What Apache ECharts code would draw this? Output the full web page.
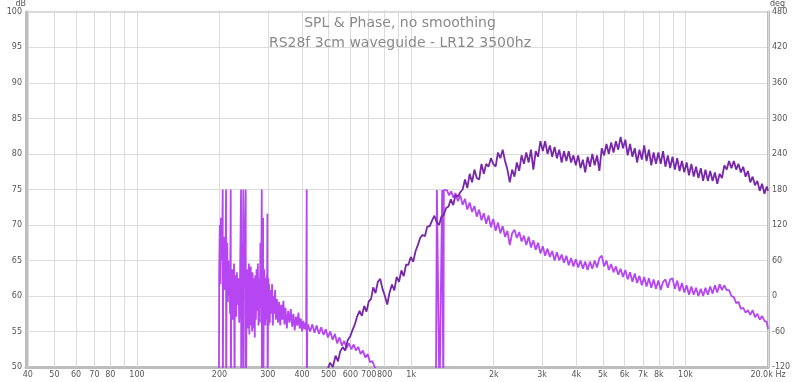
<!DOCTYPE html>
<html>
<head>
<meta charset="utf-8" />
<title>SPL & Phase</title>
<script src="https://cdn.jsdelivr.net/npm/echarts@6/dist/echarts.min.js"></script>
<style>
  html, body { margin: 0; padding: 0; background: #fff; }
  #main { width: 800px; height: 382px; }
</style>
</head>
<body>
<div id="main"></div>
<script>
// frequency gridlines and labelled frequencies (Hz)
var gridFreqs = [40, 50, 60, 70, 80, 90, 100, 200, 300, 400, 500, 600, 700, 800, 900,
    1000, 2000, 3000, 4000, 5000, 6000, 7000, 8000, 9000, 10000, 20000];
var labelFreqs = [40, 50, 60, 70, 80, 100, 200, 300, 400, 500, 600, 700, 800,
    1000, 2000, 3000, 4000, 5000, 6000, 7000, 8000, 10000, 20000];

// SPL, dB  [Hz, dB]
var splData = [
    [480, 47.5], [495, 49.6], [506, 50.6], [518, 50.0], [530, 51.6], [541, 50.8], [551, 52.2],
    [563, 52.8], [575, 52.3], [587, 53.8], [599, 54.3], [611, 55.2], [623, 56.0], [635, 57.1],
    [648, 57.9], [661, 57.2], [674, 58.6], [687, 57.8], [700, 59.2], [714, 59.6], [727, 61.2],
    [741, 60.4], [756, 62.0], [771, 62.4], [786, 61.0], [802, 60.0], [818, 58.8], [834, 60.5],
    [851, 61.6], [868, 60.8], [885, 62.7], [903, 62.0], [921, 63.6], [939, 62.8], [958, 64.4],
    [977, 64.4], [997, 65.5], [1017, 64.8], [1037, 66.3], [1058, 67.2], [1079, 68.2], [1100, 68.6],
    [1122, 68.4], [1145, 69.8], [1168, 69.8], [1191, 70.6], [1215, 71.3], [1239, 70.4], [1264, 70.0],
    [1289, 71.2], [1315, 71.4], [1341, 72.4], [1368, 72.6], [1395, 73.6], [1423, 72.8], [1451, 74.2],
    [1480, 74.0], [1510, 74.6], [1540, 75.0], [1571, 76.4], [1602, 75.2], [1634, 77.2], [1667, 76.0],
    [1700, 77.8], [1734, 76.6], [1769, 76.4], [1804, 78.6], [1840, 77.2], [1877, 78.6], [1914, 78.2],
    [1953, 79.4], [1992, 78.6], [2032, 78.2], [2072, 80.2], [2114, 79.4], [2156, 80.6], [2199, 79.0],
    [2243, 77.8], [2288, 76.0], [2334, 77.8], [2380, 76.8], [2428, 78.8], [2477, 77.6], [2526, 79.8],
    [2577, 78.6], [2628, 80.2], [2681, 78.8], [2734, 80.6], [2789, 77.8], [2845, 80.4], [2901, 79.6],
    [2959, 81.8], [3019, 80.4], [3079, 81.8], [3141, 80.0], [3203, 81.2], [3267, 79.6], [3333, 81.0],
    [3399, 79.4], [3467, 80.6], [3537, 78.8], [3607, 80.4], [3680, 79.0], [3753, 80.4], [3828, 78.8],
    [3905, 79.8], [3983, 78.4], [4063, 79.8], [4144, 78.0], [4227, 79.2], [4311, 77.4], [4398, 79.6],
    [4486, 78.2], [4575, 80.0], [4667, 78.4], [4760, 79.8], [4855, 77.6], [4952, 80.8], [5051, 79.8],
    [5152, 81.4], [5255, 80.0], [5360, 81.6], [5468, 80.2], [5577, 81.8], [5689, 80.6], [5802, 82.4],
    [5918, 80.8], [6037, 82.0], [6157, 79.8], [6281, 81.4], [6406, 79.6], [6534, 80.8], [6665, 78.8],
    [6798, 80.6], [6934, 79.2], [7073, 81.2], [7214, 79.0], [7359, 80.6], [7506, 78.4], [7656, 80.2],
    [7809, 78.6], [7965, 80.2], [8125, 78.6], [8287, 80.4], [8453, 78.2], [8622, 79.8], [8794, 78.0],
    [8970, 79.6], [9150, 77.8], [9333, 79.4], [9519, 77.6], [9710, 79.0], [9904, 77.4], [10100, 78.8],
    [10300, 77.0], [10510, 78.6], [10720, 76.8], [10930, 78.2], [11150, 76.6], [11380, 78.0], [11600, 76.2],
    [11830, 77.8], [12070, 76.2], [12310, 77.6], [12560, 76.2], [12810, 77.4], [13060, 75.8], [13330, 77.2],
    [13590, 76.6], [13860, 78.4], [14140, 77.8], [14420, 79.0], [14710, 78.0], [15010, 79.0], [15310, 77.8],
    [15610, 78.6], [15920, 77.4], [16240, 78.2], [16570, 76.8], [16900, 77.6], [17240, 76.0], [17580, 76.8],
    [17930, 75.6], [18290, 76.2], [18660, 74.8], [19030, 75.8], [19410, 74.4], [19800, 75.4], [20000, 74.8]
];

// Phase, degrees  [Hz, deg]  (wraps at +/-180)
var phaseData = [
    [199, -180], [199.5, 40], [200.5, 120], [201.5, 20], [202.5, 132], [203.5, 60], [204.5, 95],
    [205.5, 180], [205.7, -180], [206.5, 70], [207.5, 30], [208.5, 100], [209.5, 10], [210.5, 80],
    [211.3, 180], [211.5, -180], [212.5, 40], [213.5, 90], [214.5, -10], [215.5, 60], [216.5, 0],
    [217.5, 50], [218.5, -30], [219.8, 180], [220, -180], [221, 30], [222, -20], [223, 45], [224, -40],
    [225, 20], [226, 55], [227, -180], [227.5, 10], [228.5, 35], [230, -35], [231.5, 40], [233, -15],
    [234.5, 30], [236, -45], [237.5, 20], [239.7, 180], [240, -180], [241.5, 25], [242.5, -30],
    [244.3, 180], [244.5, -180], [245.5, 10], [246.5, 60], [249.3, 180], [249.5, -180],
    [251, -20], [252, 45], [253, -55], [254, 30], [255, -40], [256, 55], [257, -65], [258, 35],
    [259, -35], [260, 50], [261, -50], [262, 25], [263, -60], [264, 40], [265, -30], [266, 30],
    [267, -55], [268, 20], [269, -70], [270, 35], [271.5, -40], [273, 45], [274.5, -25], [276, 55],
    [277.5, -50], [279, 30], [280.5, -45], [282, 90], [283.5, -20], [285.2, 180], [285.4, -180],
    [286.5, 40], [287.5, -30], [288.4, 132], [289, -180], [290, -20], [291, 45], [292, -35], [293, 30],
    [294, -50], [295, 20], [296, -40], [297, 35], [298, -30], [299, 139], [299.5, -180], [300.5, -20],
    [301.5, 30], [302.5, -50], [303.5, 20], [305, -45], [307, 10], [309, -30], [311, 20], [313, -50],
    [315, 0], [317, -30], [319, 10],
    [321, -40], [324, -5], [327, -45], [330, -10], [333, -50], [336, -15], [339, -40], [342, -8],
    [345, -48], [348, -20], [352, -55], [356, -25], [360, -45], [364, -22], [368, -52], [372, -30],
    [376, -58], [380, -35], [384, -50], [388, -28], [392, -55], [396, -38], [400, -60], [404, -42],
    [408, -56], [412, -45], [414, -58], [416, 180], [416.3, -180], [418, -55],
    [420, -48], [428, -60], [436, -48], [444, -62], [452, -50], [461, -64], [470, -53], [479, -66],
    [488, -56], [497, -70], [507, -60], [517, -74], [527, -64], [537, -80], [548, -70], [559, -84],
    [570, -76], [581, -88], [593, -80], [605, -90], [617, -82], [629, -92], [641, -86], [654, -98],
    [667, -92], [680, -104], [694, -98], [708, -112], [722, -110], [736, -120], [751, -126], [766, -132],
    [800, -140], [850, -150], [900, -156], [950, -162], [1000, -166], [1060, -170], [1120, -174],
    [1180, -177], [1230, -179], [1241, 179], [1255, 178], [1268, -179], [1285, -179], [1297, 179],
    [1305, 178], [1310, -179], [1315, 179], [1330, 176],
    [1350, 179], [1375, 170], [1400, 177], [1425, 166], [1450, 174], [1480, 160], [1510, 170],
    [1540, 154], [1571, 164], [1602, 146], [1634, 158], [1667, 142], [1700, 152], [1734, 134],
    [1769, 146], [1804, 128], [1840, 140], [1877, 122], [1914, 136], [1953, 116], [1992, 130],
    [2032, 110], [2072, 124], [2114, 106], [2156, 118], [2199, 100], [2243, 110], [2288, 86],
    [2334, 106], [2380, 112], [2428, 98], [2477, 108], [2526, 92], [2577, 102], [2628, 86],
    [2681, 100], [2734, 82], [2789, 94], [2845, 78], [2901, 90], [2959, 72], [3019, 84], [3079, 68],
    [3141, 80], [3203, 66], [3267, 76], [3333, 60], [3399, 74], [3467, 60], [3537, 70], [3607, 56],
    [3680, 68], [3753, 52], [3828, 64], [3905, 50], [3983, 62], [4063, 48], [4144, 60], [4227, 46],
    [4311, 58], [4398, 44], [4486, 58], [4575, 46], [4667, 60], [4760, 48], [4855, 64], [4952, 68],
    [5051, 50], [5152, 60], [5255, 44], [5360, 54], [5468, 40], [5577, 50], [5689, 36], [5802, 46],
    [5918, 32], [6037, 44], [6157, 28], [6281, 40], [6406, 24], [6534, 38], [6665, 22], [6798, 34],
    [6934, 18], [7073, 32], [7214, 16], [7359, 30], [7506, 14], [7656, 28], [7809, 12], [7965, 26],
    [8125, 10], [8287, 24], [8453, 28], [8622, 14], [8794, 28], [8970, 30], [9150, 12], [9333, 26],
    [9519, 8], [9710, 22], [9904, 6], [10100, 18], [10300, 2], [10510, 16], [10720, 2], [10930, 14],
    [11150, 0], [11380, 12], [11600, 0], [11830, 14], [12070, 2], [12310, 16], [12560, 4], [12810, 18],
    [13060, 6], [13330, 20], [13590, 10], [13860, 18], [14140, 10], [14420, 10], [14710, 0],
    [15010, -2], [15310, -12], [15610, -10], [15920, -22], [16240, -20], [16570, -28], [16900, -24],
    [17240, -32], [17580, -24], [17930, -36], [18290, -30], [18660, -40], [19030, -34], [19410, -42],
    [19800, -44], [20000, -56]
];

function fmtHz(v) {
    v = Math.round(v);
    if (v >= 20000) return '20.0k Hz';
    if (v >= 1000) return (v / 1000) + 'k';
    return '' + v;
}

var myChart = echarts.init(document.getElementById('main'));
var labelStyle = { fontFamily: 'DejaVu Sans', fontSize: 8, color: '#555' };

var option = {
    backgroundColor: '#fff',
    animation: false,
    title: {
        text: 'SPL & Phase, no smoothing\nRS28f 3cm waveguide - LR12 3500hz',
        left: 'center',
        top: 8,
        textStyle: { fontFamily: 'DejaVu Sans', fontSize: 14, fontWeight: 'normal', color: '#8a8a8a', lineHeight: 20, align: 'center' }
    },
    grid: { left: 26, right: 32, top: 10, bottom: 15, show: true, borderColor: '#c4c4c4', borderWidth: 1 },
    xAxis: {
        type: 'log',
        logBase: 10,
        min: 39.4,
        max: 20000,
        axisLine: { show: true, onZero: false, lineStyle: { color: '#bdbdbd', width: 3 } },
        axisTick: {
            show: true, inside: true, length: 357, customValues: gridFreqs,
            lineStyle: { color: '#dcdcdc', width: 1 }
        },
        splitLine: { show: false },
        minorTick: { show: false },
        axisLabel: Object.assign({ customValues: labelFreqs, margin: 4, formatter: fmtHz }, labelStyle)
    },
    yAxis: [
        {
            type: 'value', min: 50, max: 100, interval: 5,
            name: 'dB', nameLocation: 'end', nameGap: 1,
            nameTextStyle: { fontFamily: 'DejaVu Sans', fontSize: 8, color: '#555', align: 'right', padding: [0, 0, 0, 0] },
            axisLine: { show: true, onZero: false, lineStyle: { color: '#bdbdbd', width: 3 } },
            axisTick: { show: false },
            splitLine: { show: true, lineStyle: { color: '#dcdcdc', width: 1 } },
            axisLabel: Object.assign({ margin: 4 }, labelStyle)
        },
        {
            type: 'value', min: -120, max: 480, interval: 60, position: 'right',
            name: 'deg', nameLocation: 'end', nameGap: 1,
            nameTextStyle: { fontFamily: 'DejaVu Sans', fontSize: 8, color: '#555', align: 'left', padding: [0, 0, 0, 2] },
            axisLine: { show: true, onZero: false, lineStyle: { color: '#bdbdbd', width: 3 } },
            axisTick: { show: false },
            splitLine: { show: false },
            axisLabel: Object.assign({ margin: 4 }, labelStyle)
        }
    ],
    series: [
        {
            name: 'Phase', type: 'line', yAxisIndex: 1, data: phaseData,
            showSymbol: false, clip: true,
            lineStyle: { color: '#b546f2', width: 1.8 }
        },
        {
            name: 'SPL', type: 'line', yAxisIndex: 0, data: splData,
            showSymbol: false, clip: true,
            lineStyle: { color: '#7826ab', width: 1.8 }
        }
    ]
};
myChart.setOption(option);
</script>
</body>
</html>
